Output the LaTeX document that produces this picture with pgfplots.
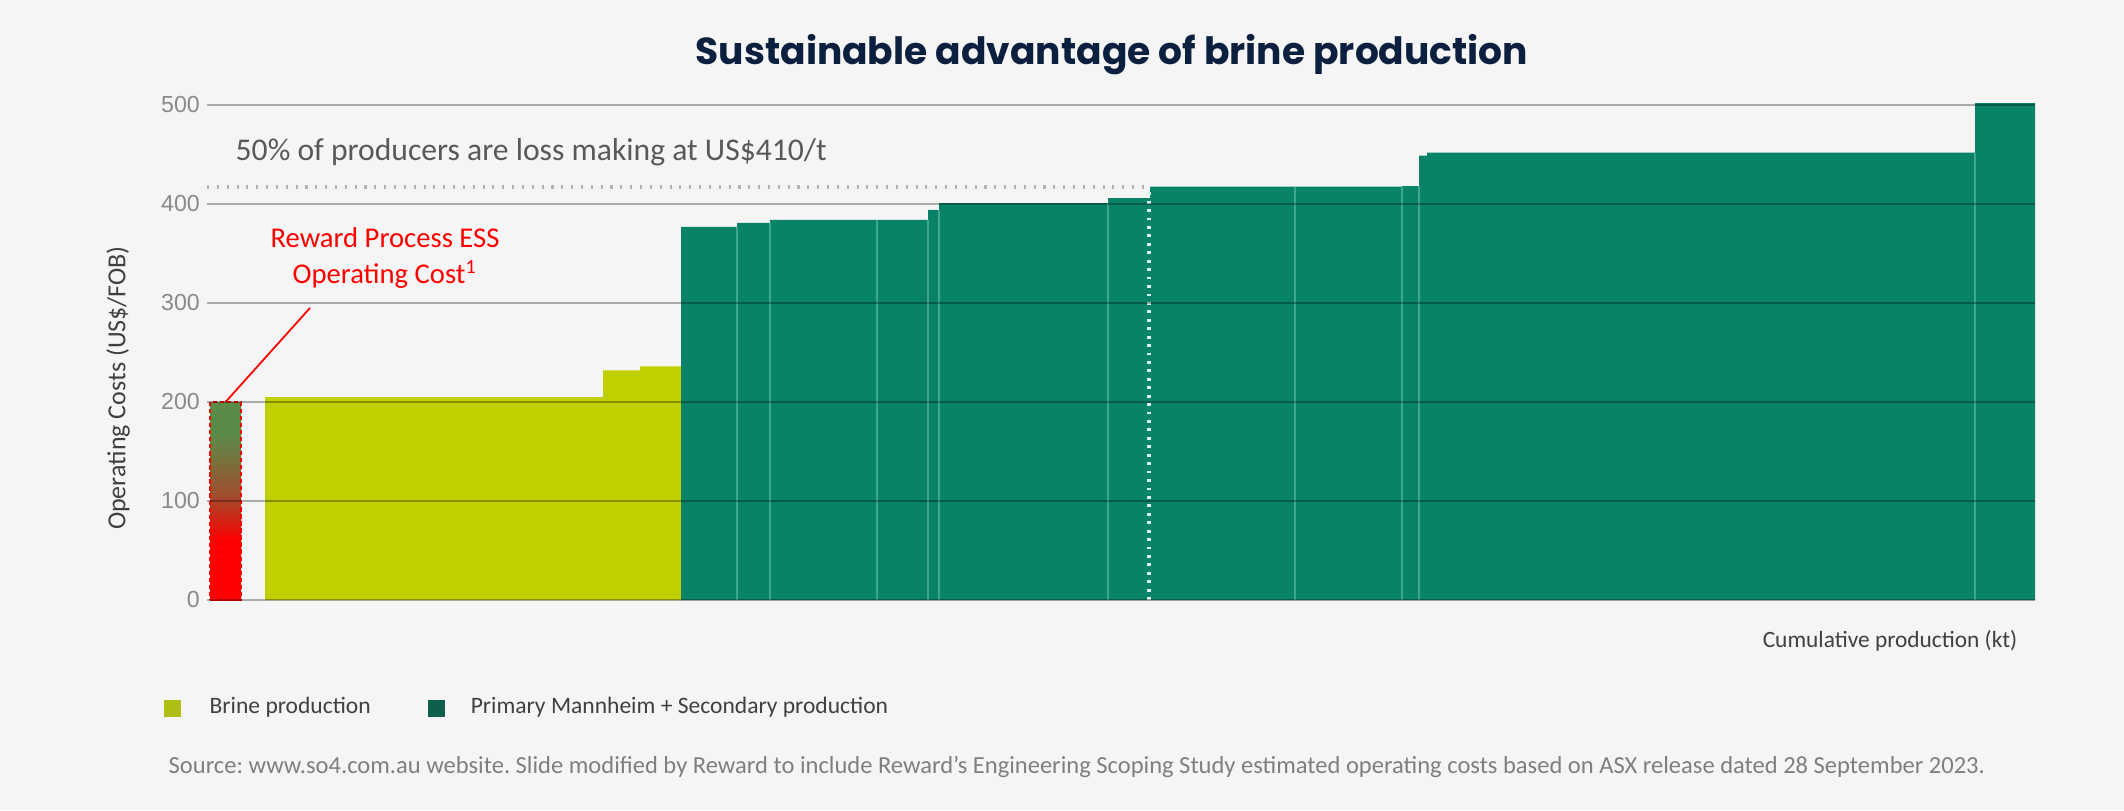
\documentclass[border=0pt]{standalone}
\usepackage{pgfplots}
\pgfplotsset{compat=1.18}
\usepackage{fontspec}
\setmainfont{Carlito}
\newfontfamily\titlefont{Poppins}
\newfontfamily\tickfont{Liberation Sans}
\frenchspacing
\definecolor{bgc}{HTML}{F5F5F5}
\definecolor{titlec}{HTML}{0B1F3F}
\definecolor{tickc}{HTML}{8A8A8A}
\definecolor{brinec}{HTML}{BFCF00}
\definecolor{mannc}{HTML}{098368}
\definecolor{sepc}{HTML}{3FA58C}
\definecolor{legbrine}{HTML}{AEBE12}
\definecolor{legmann}{HTML}{0E5F4B}
\definecolor{textc}{HTML}{595959}
\definecolor{darktext}{HTML}{404040}
\definecolor{srcc}{HTML}{7F7F7F}
\definecolor{dotc}{HTML}{B4B4B4}
\definecolor{vdotc}{HTML}{D8F4EE}
\definecolor{essred}{HTML}{FF0000}
\definecolor{essbrown}{HTML}{9C5030}
\definecolor{essgreen}{HTML}{5A8C48}
\pgfdeclareverticalshading{essshade}{100bp}{color(0bp)=(essred); color(25bp)=(essred); color(40bp)=(essred); color(52bp)=(essbrown); color(67bp)=(essgreen); color(75bp)=(essgreen); color(100bp)=(essgreen)}
\begin{document}
\begin{tikzpicture}
\fill[bgc] (0,0) rectangle (21.24,8.10);
\useasboundingbox (0,0) rectangle (21.24,8.10);
\begin{axis}[
  at={(2.07cm,2.10cm)}, anchor=south west,
  scale only axis, width=18.28cm, height=5.049cm,
  xmin=0, xmax=1828, ymin=0, ymax=510,
  axis line style={draw=none},
  xtick=\empty,
  ytick={0,100,200,300,400,500},
  major tick length=0pt,
  ymajorgrids,
  major grid style={black, opacity=0.3, line width=0.7pt},
  axis on top,
  yticklabel style={font=\tickfont\fontsize{6.6}{7}\selectfont, text=tickc, xshift=1.5pt},
  /pgf/number format/assume math mode=true,
  legend columns=2,
  legend style={at={(axis description cs:-0.0241,-0.214)}, anchor=west, draw=none, fill=none, inner sep=0pt, font=\fontsize{6.7}{8}\selectfont, text=darktext, /tikz/every even column/.append style={column sep=0.5cm}},
]
% Reward ESS operating cost bar
\addplot[forget plot, ybar interval, shade, shading=essshade, draw=essred, line width=0.35pt, dash pattern=on 1.2pt off 0.8pt] coordinates {(3,200) (34,200)};
% Brine production
\addplot[forget plot, ybar interval, fill=brinec, draw=none] coordinates {(58,205) (396,232) (433,236) (474,236)};
% Primary Mannheim + Secondary production
\addplot[forget plot, ybar interval, fill=mannc, draw=none] coordinates {(474,377) (530,381) (563,384) (670,384) (721,394) (732,401) (901,406) (943,417.5) (1088,417.5) (1195,418) (1212,449) (1220,452) (1768,502) (1828,502)};
% separators between producers
\addplot[forget plot, ycomb, draw=sepc, line width=0.45pt] coordinates {(530,377) (563,381) (670,384) (721,384) (732,394) (901,401) (1088,417.5) (1195,417.5) (1212,418) (1768,452)};
% 50% line
\addplot[forget plot, draw=dotc, line width=1.2pt, dash pattern=on 0.6pt off 2.2pt] coordinates {(0,417.5) (942,417.5)};
\addplot[forget plot, draw=vdotc, line width=1.1pt, dash pattern=on 0.8pt off 1.6pt] coordinates {(942,0) (942,417.5)};
\draw[essred, line width=0.5pt] (axis cs:18.5,200) -- (axis cs:103,295);
\addlegendimage{legend image code/.code={\fill[legbrine, draw=none] (0cm,-0.085cm) rectangle (0.17cm,0.085cm); \path[draw=none, fill=none] (0.17cm,0) -- (0.39cm,0);}}
\addlegendentry{Brine production}
\addlegendimage{legend image code/.code={\fill[legmann, draw=none] (0cm,-0.085cm) rectangle (0.17cm,0.085cm); \path[draw=none, fill=none] (0.17cm,0) -- (0.36cm,0);}}
\addlegendentry{Primary Mannheim + Secondary production}
\end{axis}
\node[anchor=base, font=\titlefont\bfseries\fontsize{10.7}{12}\selectfont, text=titlec] at (11.12,7.46) {Sustainable advantage of brine production};
\node[anchor=base west, font=\fontsize{9}{10}\selectfont, text=textc, inner sep=0pt] at (2.35,6.50) {50\% of producers are loss making at US\$410/t};
\node[anchor=base, font=\fontsize{8.15}{9}\selectfont, text=essred, inner sep=0pt] at (3.85,5.623) {Reward Process ESS};
\node[anchor=base, font=\fontsize{8.15}{9}\selectfont, text=essred, inner sep=0pt] at (3.85,5.27) {Operating Cost\textsuperscript{1}};
\node[rotate=90, font=\fontsize{7.4}{8}\selectfont, text=darktext] at (1.18,4.22) {Operating Costs (US\$/FOB)};
\node[anchor=base east, font=\fontsize{6.65}{8}\selectfont, text=darktext, inner sep=0pt] at (20.18,1.63) {Cumulative production (kt)};
\node[anchor=base west, font=\fontsize{6.98}{8}\selectfont, text=srcc, inner sep=0pt] at (1.68,0.37) {Source: www.so4.com.au website. Slide modified by Reward to include Reward’s Engineering Scoping Study estimated operating costs based on ASX release dated 28 September 2023.};
\end{tikzpicture}
\end{document}
